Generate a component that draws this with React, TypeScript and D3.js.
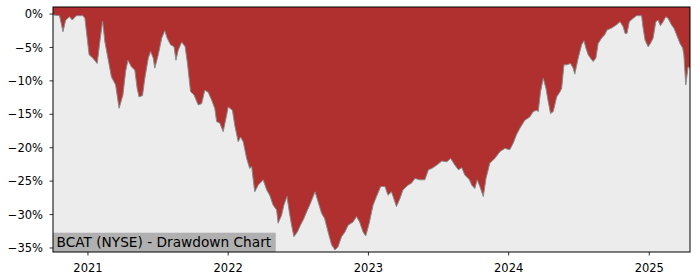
import React from "react";
import * as d3 from "d3";

const dates: string[] = [
  "2020-10-02","2020-10-04","2020-10-19","2020-10-28","2020-11-04","2020-11-14","2020-11-21","2020-12-02",
  "2020-12-19","2020-12-24","2020-12-30","2021-01-04","2021-01-14","2021-01-25","2021-02-01","2021-02-08",
  "2021-02-14","2021-02-22","2021-03-03","2021-03-14","2021-03-23","2021-04-02","2021-04-09","2021-04-15",
  "2021-04-24","2021-05-03","2021-05-09","2021-05-14","2021-05-23","2021-05-29","2021-06-07","2021-06-13",
  "2021-06-20","2021-06-24","2021-07-03","2021-07-12","2021-07-20","2021-07-26","2021-08-04","2021-08-13",
  "2021-08-18","2021-08-24","2021-09-02","2021-09-11","2021-09-17","2021-09-25","2021-10-04","2021-10-15",
  "2021-10-24","2021-11-01","2021-11-10","2021-11-19","2021-11-27","2021-12-02","2021-12-10","2021-12-19",
  "2021-12-28","2022-01-01","2022-01-12","2022-01-18","2022-01-27","2022-02-02","2022-02-09","2022-02-18",
  "2022-02-26","2022-03-03","2022-03-11","2022-03-20","2022-04-02","2022-04-11","2022-04-19","2022-04-28",
  "2022-05-07","2022-05-11","2022-05-20","2022-05-26","2022-06-03","2022-06-09","2022-06-15","2022-06-21",
  "2022-06-30","2022-07-08","2022-07-17","2022-07-24","2022-08-01","2022-08-15","2022-08-23","2022-09-01",
  "2022-09-09","2022-09-18","2022-09-27","2022-10-06","2022-10-14","2022-10-23","2022-11-01","2022-11-09",
  "2022-11-22","2022-12-01","2022-12-09","2022-12-18","2022-12-25","2023-01-03","2023-01-13","2023-01-22",
  "2023-02-02","2023-02-13","2023-02-21","2023-03-02","2023-03-15","2023-03-24","2023-04-01","2023-04-14",
  "2023-04-23","2023-05-02","2023-05-15","2023-05-28","2023-06-06","2023-06-15","2023-06-28","2023-07-11",
  "2023-07-24","2023-08-03","2023-08-14","2023-08-23","2023-09-01","2023-09-09","2023-09-21","2023-09-27",
  "2023-10-05","2023-10-11","2023-10-18","2023-10-27","2023-11-03","2023-11-13","2023-11-26","2023-12-09",
  "2023-12-22","2024-01-04","2024-01-13","2024-01-21","2024-01-30","2024-02-12","2024-02-25","2024-03-05",
  "2024-03-14","2024-03-18","2024-03-24","2024-03-31","2024-04-07","2024-04-13","2024-04-19","2024-04-26",
  "2024-05-05","2024-05-14","2024-05-18","2024-05-24","2024-05-31","2024-06-10","2024-06-17","2024-06-21",
  "2024-06-30","2024-07-09","2024-07-15","2024-07-20","2024-07-26","2024-08-01","2024-08-08","2024-08-15",
  "2024-08-21","2024-08-30","2024-09-07","2024-09-13","2024-09-25","2024-10-08","2024-10-17","2024-10-25",
  "2024-10-30","2024-11-04","2024-11-10","2024-11-20","2024-11-29","2024-12-12","2024-12-16","2024-12-21",
  "2024-12-29","2025-01-04","2025-01-11","2025-01-18","2025-01-24","2025-01-30","2025-02-06","2025-02-13",
  "2025-02-19","2025-02-28","2025-03-06","2025-03-13","2025-03-22","2025-03-29","2025-04-01","2025-04-06",
  "2025-04-12","2025-04-17"
];

const drawdown: number[] = [
  0,-0.15,-0.25,-2.65,-0.9,-0.4,-0.9,-0.25,
  -0.25,-0.65,-3.6,-6.1,-6.6,-7.4,-4.15,-1.05,
  -4.15,-6.6,-9.4,-10.6,-14.1,-12.1,-8.6,-6.9,
  -7.9,-8.4,-11.1,-12.4,-12.2,-9.6,-6.6,-5.6,
  -6.6,-8.1,-6.1,-3.6,-2.5,-3.6,-4.6,-4.9,
  -6.9,-5.4,-4.2,-4.9,-7.4,-11.6,-12.1,-13.6,
  -13.4,-11.4,-11.7,-12.9,-14.1,-16.1,-16.3,-17.6,
  -15.1,-13.9,-14.4,-16.6,-19.1,-18.4,-19.1,-21.6,
  -23.1,-22.8,-26.6,-25.6,-24.8,-26.3,-27.1,-28.6,
  -29.3,-31.3,-30.1,-28.6,-27.3,-29.6,-31.6,-33.3,
  -32.6,-31.6,-30.6,-29.6,-28.6,-26.6,-28.1,-29.8,
  -30.6,-32.6,-34.5,-35.3,-34.8,-33.3,-32.6,-31.6,
  -31.1,-30.3,-31.1,-32.6,-33.2,-31.3,-28.6,-27.3,
  -25.8,-25.8,-27.1,-26.6,-28.8,-27.6,-26.3,-25.6,
  -25.3,-24.6,-24.8,-24.8,-23.3,-23.1,-22.6,-22.0,
  -22.1,-21.6,-22.6,-23.3,-23.0,-24.1,-24.8,-25.6,
  -26.1,-24.8,-25.8,-27.3,-24.6,-22.3,-21.6,-20.6,
  -20.1,-20.3,-19.3,-18.1,-17.1,-15.9,-15.4,-14.6,
  -14.4,-14.6,-11.6,-9.6,-11.1,-13.1,-14.9,-14.6,
  -12.4,-11.6,-11.1,-7.6,-7.6,-7.4,-8.1,-9.0,
  -6.6,-4.6,-4.0,-5.1,-6.1,-6.6,-7.1,-6.6,
  -4.4,-3.6,-3.1,-2.4,-2.1,-1.6,-1.15,-1.9,
  -2.9,-2.9,-1.15,-0.65,-0.25,-0.25,-2.1,-3.9,
  -4.9,-4.4,-3.6,-1.15,-0.9,-1.75,-1.15,-0.4,
  -0.65,-1.65,-2.1,-3.1,-4.4,-5.1,-6.1,-10.6,
  -7.9,-8.1
];

const yTicks: number[] = [0, -5, -10, -15, -20, -25, -30, -35];
const xTickYears: number[] = [2021, 2022, 2023, 2024, 2025];
const title = "BCAT (NYSE) - Drawdown Chart";

export default function App() {
  const W = 700, H = 280;
  const left = 53, right = 690, top = 7, bottom = 252;
  const parse = d3.timeParse("%Y-%m-%d");
  const pts = dates.map((d, i) => ({ date: parse(d) as Date, v: drawdown[i] }));

  const x = d3.scaleTime()
    .domain([parse("2020-10-02") as Date, parse("2025-04-17") as Date])
    .range([left, right]);
  const y = d3.scaleLinear().domain([1.05, -35.6]).range([top, bottom]);

  const area = d3.area<{ date: Date; v: number }>()
    .x(d => x(d.date))
    .y0(bottom)
    .y1(d => y(d.v));
  const line = d3.line<{ date: Date; v: number }>()
    .x(d => x(d.date))
    .y(d => y(d.v));

  const font = "'DejaVu Sans', sans-serif";
  const fmt = (v: number) => (v < 0 ? "\u2212" + Math.abs(v) : String(v)) + "%";

  return (
    <svg width={W} height={H} style={{ position: "absolute", left: 0, top: 0 }}>
      <rect x={0} y={0} width={W} height={H} fill="#ffffff" />
      <rect x={left} y={top} width={right - left} height={bottom - top} fill="#b03030" />
      <path d={area(pts) || ""} fill="#ececec" />
      <path d={line(pts) || ""} fill="none" stroke="#8a8a8a" strokeWidth={1} />
      <rect x={left} y={232.7} width={222.7} height={bottom - 232.7} fill="#b0b0b0" />
      <text x={56.5} y={246.7} fontFamily={font} fontSize={13.7} fill="#000">{title}</text>
      <rect x={left} y={top} width={right - left} height={bottom - top} fill="none" stroke="#000" strokeWidth={1} />
      {yTicks.map(t => (
        <g key={t}>
          <line x1={left - 3.5} x2={left} y1={y(t)} y2={y(t)} stroke="#000" strokeWidth={0.8} />
          <text x={left - 10} y={y(t)} dy="0.36em" textAnchor="end" fontFamily={font} fontSize={11.5} fill="#000">{fmt(t)}</text>
        </g>
      ))}
      {xTickYears.map(yr => {
        const px = x(new Date(yr, 0, 1));
        return (
          <g key={yr}>
            <line x1={px} x2={px} y1={bottom} y2={bottom + 3.5} stroke="#000" strokeWidth={0.8} />
            <text x={px} y={272} textAnchor="middle" fontFamily={font} fontSize={11.5} fill="#000">{yr}</text>
          </g>
        );
      })}
    </svg>
  );
}
